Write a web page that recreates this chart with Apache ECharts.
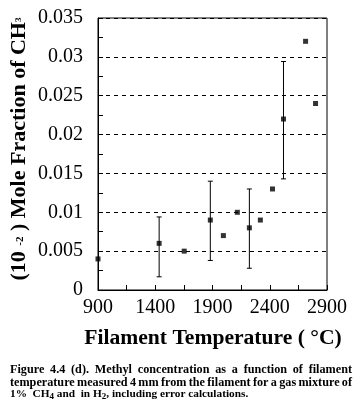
<!DOCTYPE html>
<html><head><meta charset="utf-8">
<script src="https://cdn.jsdelivr.net/npm/echarts@6/dist/echarts.min.js"></script>
<style>html,body{margin:0;padding:0;background:#fff}#c{width:361px;height:407px}</style>
</head><body><div id="c"></div>
<script>
// Data
const temperatures = [900, 1434, 1653, 1881, 1995, 2117, 2222, 2318, 2424, 2520, 2713, 2800];
const moleFractions = [0.004, 0.006, 0.005, 0.009, 0.007, 0.010, 0.008, 0.009, 0.013, 0.022, 0.032, 0.024];
const errTemps = [1434, 1881, 2222, 2520];
const errLow = [0.0017, 0.0038, 0.0028, 0.0143];
const errHigh = [0.0094, 0.0140, 0.0130, 0.0294];
const xTickLabels = ['900', '1400', '1900', '2400', '2900'];
const yTickLabels = ['0', '0.005', '0.01', '0.015', '0.02', '0.025', '0.03', '0.035'];
const captionLines = [
  'Figure 4.4 (d). Methyl concentration as a function of filament',
  'temperature measured 4 mm from the filament for a gas mixture of'
];

const chart = echarts.init(document.getElementById('c'), null, {renderer: 'canvas'});
const SERIF = "'Liberation Serif','Times New Roman',serif";

// justified caption words
const capSize = 12.2;
const capFont = 'bold ' + capSize + 'px ' + SERIF;
const cv = document.createElement('canvas').getContext('2d');
cv.font = capFont;
const capLeft = 10, capRight = 352;
const capY = [369.5, 382.5];
const captionEls = [];
captionLines.forEach((line, li) => {
  const words = line.split(' ');
  const widths = words.map(w => cv.measureText(w).width);
  const total = widths.reduce((a, b) => a + b, 0);
  const gap = (capRight - capLeft - total) / (words.length - 1);
  let x = capLeft;
  words.forEach((w, i) => {
    captionEls.push({type: 'text', x: x, y: capY[li], style: {text: w, font: capFont, fill: '#000', verticalAlign: 'middle', align: 'left'}});
    x += widths[i] + gap;
  });
});
captionEls.push({
  type: 'text', x: capLeft, y: 394.5,
  style: {
    text: '{a|1%  CH}{s|4}{a| and  in H}{s|2}{a|, including error calculations.}',
    verticalAlign: 'middle', align: 'left',
    rich: {
      a: {fontFamily: SERIF, fontWeight: 'bold', fontSize: 11.3, fill: '#000', lineHeight: 13},
      s: {fontFamily: SERIF, fontWeight: 'bold', fontSize: 9, fill: '#000', lineHeight: 13, padding: [4, 0, 0, 0]}
    }
  }
});

const option = {
  backgroundColor: '#fff',
  animation: false,
  grid: {left: 98, right: 34, top: 18, bottom: 117, show: true, borderColor: '#000', borderWidth: 1, backgroundColor: 'transparent'},
  xAxis: {
    type: 'value', min: 900, max: 2900, interval: 500,
    axisLine: {show: true, lineStyle: {color: '#000', width: 1}},
    axisTick: {show: true, inside: true, length: 5, lineStyle: {color: '#000'}},
    minorTick: {show: true, splitNumber: 2, length: 5, lineStyle: {color: '#000'}},
    splitLine: {show: false},
    axisLabel: {
      color: '#000', fontFamily: SERIF, fontSize: 20, margin: 8,
      formatter: v => xTickLabels[Math.round((v - 900) / 500)] ?? ''
    }
  },
  yAxis: {
    type: 'value', min: 0, max: 0.035, interval: 0.005,
    axisLine: {show: true, lineStyle: {color: '#000', width: 1}},
    axisTick: {show: true, inside: true, length: 5, lineStyle: {color: '#000'}},
    minorTick: {show: true, splitNumber: 2, length: 5, lineStyle: {color: '#000'}},
    splitLine: {show: true, lineStyle: {color: '#000', type: [4, 4], width: 1}},
    axisLabel: {
      color: '#000', fontFamily: SERIF, fontSize: 20, margin: 15,
      formatter: v => yTickLabels[Math.round(v / 0.005)] ?? ''
    }
  },
  graphic: [
    {
      type: 'text', x: 19, y: 149, rotation: Math.PI / 2,
      style: {
        text: '{a|(10 }{s|-2}{a| ) Mole Fraction of CH}{b|3}',
        align: 'center', verticalAlign: 'middle',
        rich: {
          a: {fontFamily: SERIF, fontWeight: 'bold', fontSize: 22, fill: '#000', lineHeight: 24},
          s: {fontFamily: SERIF, fontWeight: 'bold', fontSize: 11, fill: '#000', lineHeight: 24, padding: [3, 0, 0, 0]},
          b: {fontFamily: SERIF, fontWeight: 'bold', fontSize: 9, fill: '#000', lineHeight: 24}
        }
      }
    },
    {
      type: 'text', x: 213, y: 338,
      style: {text: 'Filament Temperature ( °C)', font: 'bold 21.6px ' + SERIF, fill: '#000', align: 'center', verticalAlign: 'middle'}
    }
  ].concat(captionEls),
  series: [
    {
      type: 'custom',
      data: errTemps.map((t, i) => [t, errLow[i], errHigh[i]]),
      renderItem: (params, api) => {
        const top = api.coord([api.value(0), api.value(2)]);
        const bot = api.coord([api.value(0), api.value(1)]);
        const hw = 2.5;
        const st = {stroke: '#000', lineWidth: 1};
        return {
          type: 'group',
          children: [
            {type: 'line', shape: {x1: top[0], y1: top[1], x2: bot[0], y2: bot[1]}, style: st},
            {type: 'line', shape: {x1: top[0] - hw, y1: top[1], x2: top[0] + hw, y2: top[1]}, style: st},
            {type: 'line', shape: {x1: bot[0] - hw, y1: bot[1], x2: bot[0] + hw, y2: bot[1]}, style: st}
          ]
        };
      },
      z: 3
    },
    {
      type: 'scatter',
      data: temperatures.map((t, i) => [t, moleFractions[i]]),
      symbol: 'rect', symbolSize: 5,
      itemStyle: {color: '#000'},
      z: 4
    }
  ]
};
chart.setOption(option);
</script>
</body></html>
